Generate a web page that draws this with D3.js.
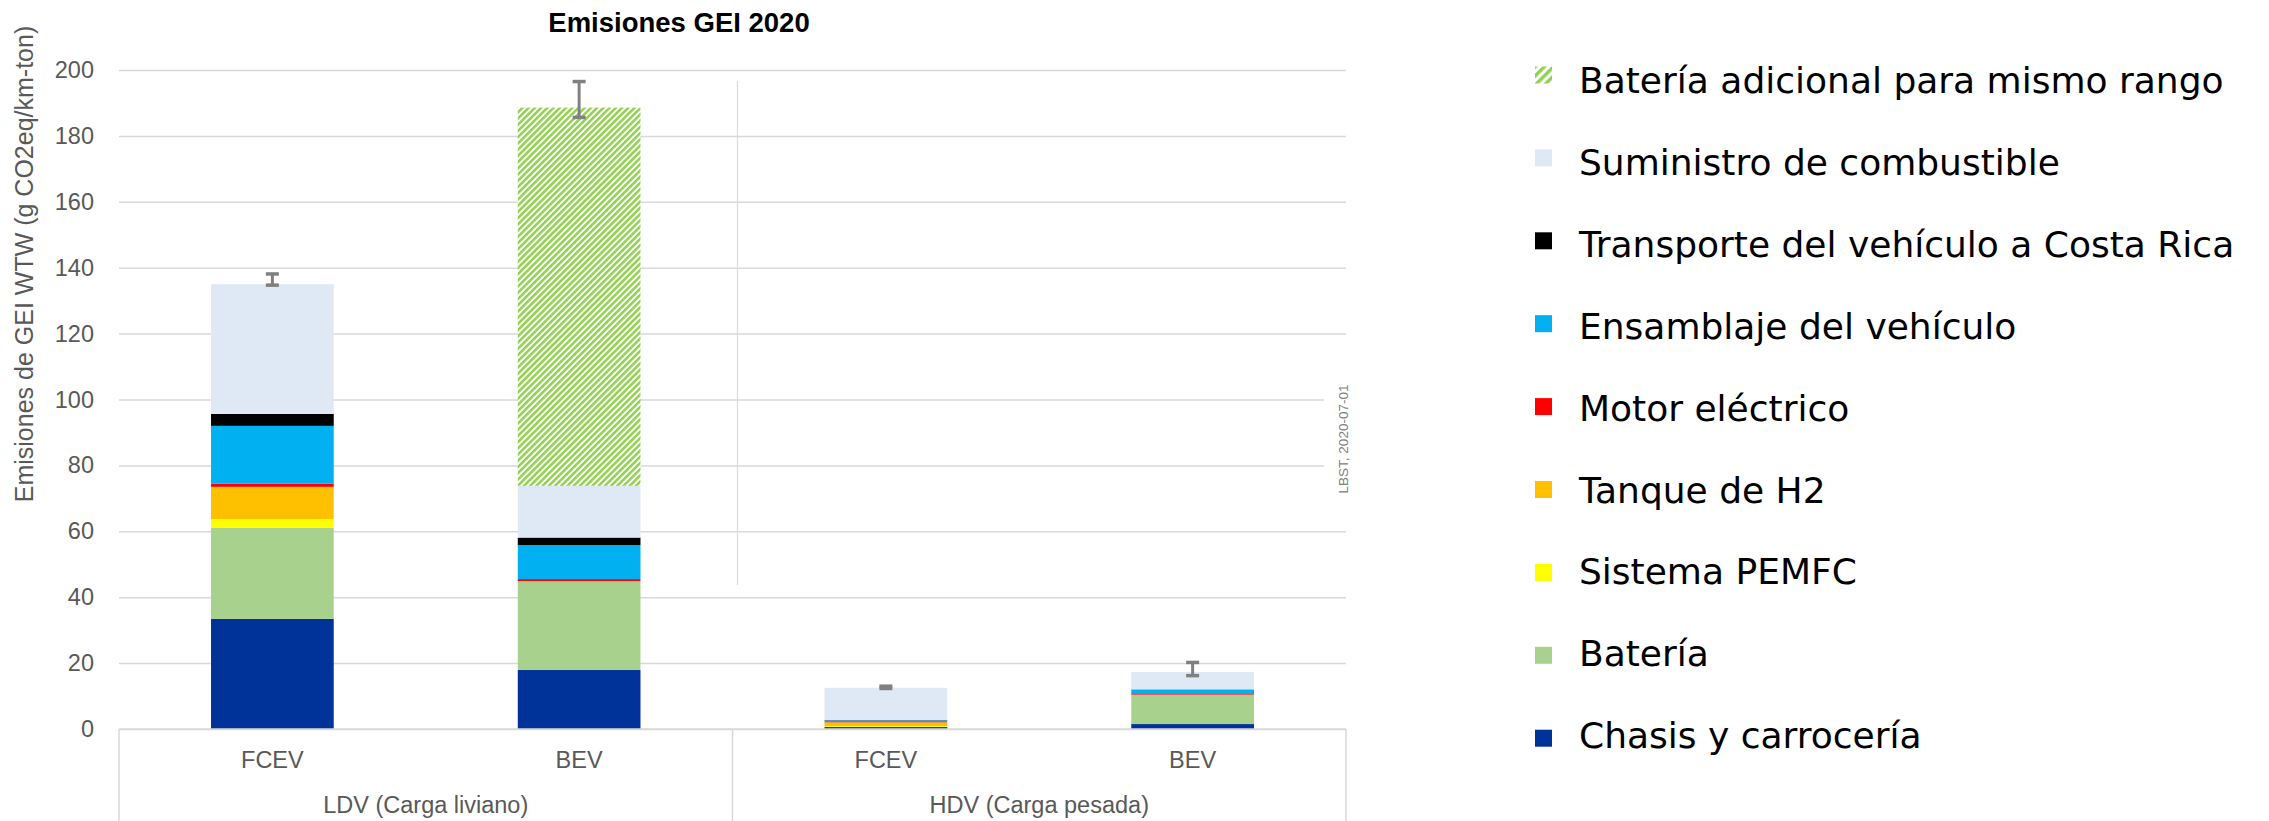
<!DOCTYPE html>
<head>
  <meta charset="utf-8">
  <title>Emisiones GEI 2020</title>
  <script src="https://d3js.org/d3.v7.min.js"></script>
  <style>
    html, body { margin: 0; padding: 0; background: #fff; }
    #chart { width: 2269px; height: 821px; }
    .axis-text { font-family: "Liberation Sans", Arial, sans-serif; fill: #595959; }
    .legend-text { font-family: "DejaVu Sans", sans-serif; font-size: 36px; fill: #000; }
  </style>
</head>
<body>
<div id="chart"></div>
<script>
// categorias del eje x (dos grupos de dos barras)
const categories = ['FCEV', 'BEV', 'FCEV', 'BEV'];
const groups = ['LDV (Carga liviano)', 'HDV (Carga pesada)'];

// series, de abajo hacia arriba en la pila
const seriesNames = [
  'Chasis y carrocería',
  'Batería',
  'Sistema PEMFC',
  'Tanque de H2',
  'Motor eléctrico',
  'Ensamblaje del vehículo',
  'Transporte del vehículo a Costa Rica',
  'Suministro de combustible',
  'Batería adicional para mismo rango'
];
const seriesColors = ['#003399', '#a9d18e', '#ffff00', '#ffc000', '#ff0000', '#00b0f0', '#000000', '#dfe9f5', 'url(#hatch)'];

// valores (g CO2eq/km-ton) por categoria: LDV FCEV, LDV BEV, HDV FCEV, HDV BEV
const chasis      = [33.4, 17.9, 0.6, 1.5];
const bateria     = [27.7, 27.0, 0.0, 8.9];
const pemfc       = [2.6, 0.0, 0.3, 0.0];
const tanqueH2    = [9.8, 0.0, 1.1, 0.0];
const motor       = [1.0, 0.6, 0.1, 0.2];
const ensamblaje  = [17.5, 10.3, 0.5, 1.3];
const transporte  = [3.6, 2.3, 0.1, 0.1];
const suministro  = [39.4, 15.7, 9.8, 5.3];
const batAdicional = [0.0, 114.8, 0.0, 0.0];
const seriesValues = [chasis, bateria, pemfc, tanqueH2, motor, ensamblaje, transporte, suministro, batAdicional];

// barras de error (min, max)
const errLow  = [134.7, 185.6, 12.3, 16.2];
const errHigh = [138.1, 196.5, 13.0, 20.2];

const yTicks = [0, 20, 40, 60, 80, 100, 120, 140, 160, 180, 200];

const width = 2269;
const height = 821;
const plot = { left: 119, right: 1346, top: 70, bottom: 729 };

const svg = d3.select('#chart').append('svg')
  .attr('width', width)
  .attr('height', height);

// patron rayado para la bateria adicional
const defs = svg.append('defs');
function hatch(id, size, stripe) {
  const p = defs.append('pattern')
    .attr('id', id)
    .attr('patternUnits', 'userSpaceOnUse')
    .attr('width', size)
    .attr('height', size)
    .attr('patternTransform', 'rotate(45)');
  p.append('rect').attr('width', size).attr('height', size).attr('fill', '#fff');
  p.append('rect').attr('width', stripe).attr('height', size).attr('fill', '#92d050');
}
hatch('hatch', 4.4, 2.5);
hatch('hatchLegend', 6.5, 3.4);

const keys = categories.map((c, i) => i);
const x = d3.scaleBand()
  .domain(keys)
  .range([plot.left, plot.right])
  .paddingInner(0.6)
  .paddingOuter(0.3);

const y = d3.scaleLinear()
  .domain([0, 200])
  .range([plot.bottom, plot.top]);

// lineas de cuadricula + etiquetas del eje y
const yAxis = svg.append('g')
  .attr('transform', `translate(${plot.left},0)`)
  .call(d3.axisLeft(y).tickValues(yTicks).tickSize(-(plot.right - plot.left)).tickPadding(25));
yAxis.select('.domain').remove();
yAxis.selectAll('.tick line').attr('stroke', '#d9d9d9').attr('stroke-width', 1.5);
yAxis.selectAll('.tick text')
  .attr('class', 'axis-text')
  .style('font-size', '23.5px');

// caja blanca detras del texto LBST (tapa las lineas)
svg.append('rect')
  .attr('x', 1324).attr('y', 372)
  .attr('width', 40).attr('height', 133)
  .attr('fill', '#fff');
svg.append('text')
  .attr('transform', 'translate(1348,439) rotate(-90)')
  .attr('text-anchor', 'middle')
  .style('font-family', '"Liberation Sans", Arial, sans-serif')
  .style('font-size', '13.5px')
  .style('fill', '#808080')
  .text('LBST, 2020-07-01');

// linea vertical gris en el area del grafico
svg.append('line')
  .attr('x1', 737.5).attr('x2', 737.5)
  .attr('y1', 81).attr('y2', 585)
  .attr('stroke', '#dcdcdc')
  .attr('stroke-width', 1.3);

// barras apiladas
const rows = keys.map(i => {
  const r = { key: i };
  seriesNames.forEach((s, j) => { r[s] = seriesValues[j][i]; });
  return r;
});
const stacked = d3.stack().keys(seriesNames)(rows);

svg.append('g')
  .selectAll('g')
  .data(stacked)
  .join('g')
  .attr('fill', (d, j) => seriesColors[j])
  .selectAll('rect')
  .data(d => d.filter(p => p[1] - p[0] > 0))
  .join('rect')
  .attr('x', d => x(d.data.key))
  .attr('width', x.bandwidth())
  .attr('y', d => y(d[1]))
  .attr('height', d => y(d[0]) - y(d[1]));

// barras de error
const eb = svg.append('g')
  .attr('stroke', '#808080');
keys.forEach(i => {
  const cx = x(i) + x.bandwidth() / 2;
  eb.append('line')
    .attr('x1', cx).attr('x2', cx)
    .attr('y1', y(errLow[i])).attr('y2', y(errHigh[i]))
    .attr('stroke-width', 3);
  [errLow[i], errHigh[i]].forEach(v => {
    eb.append('line')
      .attr('x1', cx - 6.5).attr('x2', cx + 6.5)
      .attr('y1', y(v)).attr('y2', y(v))
      .attr('stroke-width', 3.5);
  });
});

// eje x con categorias agrupadas
svg.append('line')
  .attr('x1', plot.left).attr('x2', plot.right)
  .attr('y1', plot.bottom).attr('y2', plot.bottom)
  .attr('stroke', '#d9d9d9').attr('stroke-width', 1.5);

const step = x.step();
const dividers = [plot.left, plot.left + step * 2, plot.right];
svg.append('g')
  .selectAll('line')
  .data(dividers)
  .join('line')
  .attr('x1', d => d).attr('x2', d => d)
  .attr('y1', plot.bottom).attr('y2', height)
  .attr('stroke', '#d9d9d9').attr('stroke-width', 1.5);

svg.append('g')
  .selectAll('text')
  .data(keys)
  .join('text')
  .attr('class', 'axis-text')
  .attr('x', i => x(i) + x.bandwidth() / 2)
  .attr('y', 768)
  .attr('text-anchor', 'middle')
  .style('font-size', '23.5px')
  .text(i => categories[i]);

svg.append('g')
  .selectAll('text')
  .data(groups)
  .join('text')
  .attr('class', 'axis-text')
  .attr('x', (d, g) => (dividers[g] + dividers[g + 1]) / 2)
  .attr('y', 813)
  .attr('text-anchor', 'middle')
  .style('font-size', '23.5px')
  .text(d => d);

// titulo del eje y
svg.append('text')
  .attr('class', 'axis-text')
  .attr('transform', 'translate(33,264) rotate(-90)')
  .attr('text-anchor', 'middle')
  .style('font-size', '25px')
  .text('Emisiones de GEI WTW (g CO2eq/km-ton)');

// titulo
svg.append('text')
  .attr('x', 679)
  .attr('y', 31.5)
  .attr('text-anchor', 'middle')
  .style('font-family', '"Liberation Sans", Arial, sans-serif')
  .style('font-weight', 'bold')
  .style('font-size', '27.5px')
  .style('fill', '#000')
  .text('Emisiones GEI 2020');

// leyenda (orden inverso a la pila)
// los textos van un poco mas juntos que los cuadros, como en el original
const legendItems = seriesNames.map((s, j) => ({ name: s, j })).reverse();
const legend = svg.append('g');
legend.selectAll('rect')
  .data(legendItems)
  .join('rect')
  .attr('x', 1535)
  .attr('y', (d, k) => 75 + k * 82.9 - 8.5)
  .attr('width', 17).attr('height', 17)
  .attr('fill', d => d.j === 8 ? 'url(#hatchLegend)' : seriesColors[d.j]);
legend.selectAll('text')
  .data(legendItems)
  .join('text')
  .attr('class', 'legend-text')
  .attr('x', 1579)
  .attr('y', (d, k) => 93 + k * 81.9)
  .text(d => d.name);
</script>
</body>
